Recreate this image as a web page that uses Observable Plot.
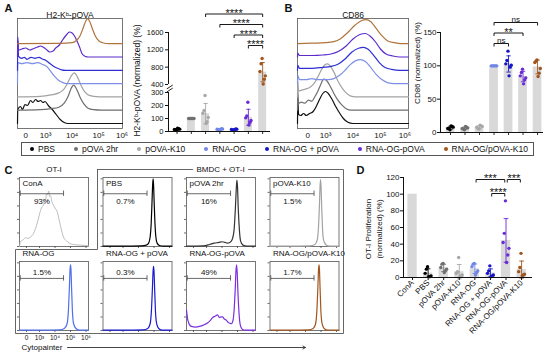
<!DOCTYPE html>
<html><head><meta charset="utf-8">
<script src="https://cdn.jsdelivr.net/npm/d3@7"></script>
<script src="https://cdn.jsdelivr.net/npm/@observablehq/plot@0.6"></script>
<style>
html,body{margin:0;padding:0;background:#fff;}
#fig{position:relative;width:550px;height:355px;overflow:hidden;background:#fff;font-family:'Liberation Sans',Arial,sans-serif;}
</style></head>
<body><div id="fig"></div>
<script>
// ================= DATA =================
const groups = ["PBS", "pOVA 2hr", "pOVA-K10", "RNA-OG", "RNA-OG + pOVA", "RNA-OG-pOVA", "RNA-OG/pOVA-K10"];
const groupColors = ["#000000", "#707070", "#a8a8a8", "#6f86e6", "#1616c6", "#6a2bd6", "#a0561e"];

// Panel A bar chart: H2-Kb-pOVA (normalized) (%)
const aValues = [
  [8, 12, 15, 18, 22, 25],
  [100, 100, 100, 100, 100, 100],
  [277, 162, 140, 108, 75, 62],
  [10, 14, 17, 20, 22, 12],
  [9, 12, 15, 18, 20, 14],
  [225, 120, 105, 85, 70, 50],
  [1000, 880, 700, 600, 520, 410]
];
const aTicks = [0, 100, 200, 300, 400, 800, 1200, 1600];
const aBreak = [300, 400];
const aSig = [
  ["RNA-OG-pOVA", "RNA-OG/pOVA-K10", "****", 0],
  ["RNA-OG + pOVA", "RNA-OG/pOVA-K10", "****", 1],
  ["RNA-OG", "RNA-OG/pOVA-K10", "****", 2],
  ["pOVA-K10", "RNA-OG/pOVA-K10", "****", 3]
];

// Panel B bar chart: CD86 (normalized) (%)
const bValues = [
  [4, 6, 6, 8, 9, 10],
  [4, 5, 6, 7, 8, 9],
  [5, 6, 8, 9, 10, 11],
  [100, 100, 100, 100, 100, 100],
  [122, 108, 103, 101, 98, 85],
  [95, 90, 85, 82, 79, 73],
  [109, 107, 105, 96, 89, 84]
];
const bTicks = [0, 50, 100, 150];
const bSig = [
  ["RNA-OG", "RNA-OG + pOVA", "ns", 0],
  ["RNA-OG", "RNA-OG-pOVA", "**", 1],
  ["RNA-OG", "RNA-OG/pOVA-K10", "ns", 2]
];

// Panel D bar chart: OT-I proliferation (normalized) (%)
const dGroups = ["ConA", ...groups];
const dConA = 100;
const dValues = [
  [13, 10, 5, 2, 1, 1],
  [17, 16, 12, 10, 8, 6],
  [24, 7, 5, 3, 2, 1],
  [17, 16, 13, 8, 6, 3],
  [14, 8, 5, 3, 2, 1],
  [92, 53, 42, 35, 27, 18],
  [29, 12, 7, 4, 3, 2]
];
const dTicks = [0, 20, 40, 60, 80, 100, 120];
const dSig = [
  ["RNA-OG + pOVA", "RNA-OG-pOVA", "****", 0],
  ["RNA-OG", "RNA-OG-pOVA", "***", 1],
  ["RNA-OG-pOVA", "RNA-OG/pOVA-K10", "***", 1]
];

// Flow histograms: [log-decade position, relative count]
const decadeLabels = ["0", "10³", "10⁴", "10⁵", "10⁶"];
const decadeTicksA = [2.25, 3, 4, 5, 6];
const decadeTicksB = [2.35, 3, 4, 5, 6];
const histA = [
  [[1.94,0],[1.95,14],[2.05,17],[2.13,14],[2.22,19],[2.32,18],[2.43,23],[2.52,21],[2.62,24],[2.72,22],[2.81,23],[2.9,21],[2.98,22],[3.1,18],[3.25,14],[3.4,9],[3.55,4],[3.7,1],[3.85,0],[5.9,0]],
  [[1.94,0],[2.8,0.5],[3.2,1.5],[3.5,3],[3.7,7],[3.85,14],[3.95,21],[4.06,25],[4.17,21],[4.3,13],[4.45,6],[4.6,2],[4.8,0.5],[5.1,0],[5.9,0]],
  [[1.94,0],[2.8,0.5],[3.2,2],[3.5,4],[3.7,8],[3.85,15],[3.97,21],[4.08,24],[4.2,20],[4.33,12],[4.48,5],[4.65,1.5],[4.9,0.3],[5.2,0],[5.9,0]],
  [[1.94,0],[1.95,21],[2.1,20],[2.3,21],[2.5,20],[2.7,21],[2.9,19],[3.05,17],[3.2,12],[3.35,7],[3.5,3],[3.65,1],[3.8,0],[5.9,0]],
  [[1.94,0],[1.95,30],[1.98,14],[2.1,12],[2.2,13],[2.3,11],[2.45,13],[2.6,12],[2.75,13],[2.9,11],[3.0,10],[3.15,7],[3.3,4],[3.45,2],[3.6,0.5],[3.75,0],[5.9,0]],
  [[1.94,0],[1.95,20],[1.98,7],[2.1,8],[2.25,9],[2.4,7],[2.51,8],[2.6,9],[2.7,10],[2.81,11],[2.9,10],[2.96,9],[3.05,7],[3.15,5],[3.28,6],[3.38,9],[3.52,12],[3.64,17],[3.78,22],[3.9,25],[4.0,24],[4.09,21],[4.2,15],[4.28,10],[4.38,3],[4.5,0.5],[4.6,0],[5.9,0]],
  [[1.94,0],[3.5,0.3],[4.0,1],[4.15,3],[4.3,8],[4.42,16],[4.52,23],[4.58,25],[4.65,23],[4.75,16],[4.87,8],[5.0,3],[5.15,1],[5.4,0],[5.9,0]]
];
const histB = [
  [[1.98,0],[1.99,24],[2.02,9],[2.1,8],[2.2,10],[2.3,8],[2.42,10],[2.55,12],[2.68,18],[2.8,25],[2.9,30],[3.0,32],[3.1,30],[3.22,25],[3.35,18],[3.5,11],[3.65,5],[3.8,1.5],[4.0,0],[6.02,0]],
  [[1.98,0],[1.99,20],[2.02,7],[2.12,8],[2.25,7],[2.38,10],[2.5,9],[2.6,13],[2.72,19],[2.83,26],[2.93,31],[3.03,30],[3.15,25],[3.3,17],[3.45,10],[3.6,5],[3.75,1.5],[3.95,0],[6.02,0]],
  [[1.98,0],[1.99,16],[2.02,6],[2.15,7],[2.3,8],[2.45,10],[2.6,14],[2.72,20],[2.85,27],[2.97,32],[3.07,33],[3.17,31],[3.3,25],[3.45,16],[3.6,9],[3.75,4],[3.9,1],[4.1,0],[6.02,0]],
  [[1.98,0],[1.99,8],[2.05,4],[2.3,4],[2.5,5],[2.7,4],[2.9,4],[3.1,4],[3.3,5],[3.5,8],[3.7,13],[3.9,19],[4.1,23],[4.27,24],[4.45,22],[4.65,16],[4.85,9],[5.05,4],[5.25,1],[5.5,0],[6.02,0]],
  [[1.98,0],[1.99,5],[2.05,2],[2.5,2],[2.9,3],[3.2,4],[3.45,6],[3.7,11],[3.95,18],[4.2,22],[4.38,23],[4.55,21],[4.75,15],[4.95,8],[5.15,3],[5.4,1],[5.7,0],[6.02,0]],
  [[1.98,0],[1.99,4],[2.05,1.5],[2.5,1.5],[2.9,2],[3.2,3],[3.5,6],[3.75,11],[4.0,18],[4.25,22.5],[4.45,23.5],[4.62,21],[4.82,15],[5.0,8],[5.2,3],[5.45,1],[5.7,0],[6.02,0]],
  [[1.98,0],[2.5,0.5],[3.0,1],[3.3,2],[3.55,5],[3.8,11],[4.05,18],[4.3,23],[4.47,24],[4.65,22],[4.85,15],[5.05,8],[5.25,3],[5.5,1],[5.75,0],[6.02,0]]
];
const histColors = ["#111111", "#6e6e6e", "#a3a3a3", "#7d8fe6", "#2e2ed4", "#5b2ccc", "#b0733c"];

// Panel C: Cytopainter dilution histograms
const cPanels = ["ConA", "PBS", "pOVA 2hr", "pOVA-K10", "RNA-OG", "RNA-OG + pOVA", "RNA-OG-pOVA", "RNA-OG/pOVA-K10"];
const cPercent = ["93%", "0.7%", "16%", "1.5%", "1.5%", "0.3%", "49%", "1.7%"];
const cColors = ["#b5b5b5", "#000000", "#333333", "#a2a2a2", "#4f6fe8", "#1a1ad0", "#7a2fe0", "#a0561e"];
const cTickD = [2.16, 3, 4, 5, 6];
const cGate = [1.76, 4.55];
const cHist = [
  [[1.71,0],[1.77,7],[1.95,10],[2.1,13],[2.25,12],[2.42,14],[2.61,19],[2.75,27],[2.87,36],[2.97,45],[3.06,53],[3.16,58],[3.26,62],[3.33,70],[3.39,68],[3.45,78],[3.52,76],[3.6,82],[3.65,74],[3.71,75],[3.8,66],[3.9,61],[4.0,57],[4.16,50],[4.25,41],[4.35,31],[4.45,21],[4.55,14],[4.7,9],[4.81,7],[5.0,4],[5.19,3],[5.65,2],[6.16,1]],
  [[1.71,0.5],[3.0,0.5],[4.2,1],[4.5,2],[4.65,5],[4.75,14],[4.82,35],[4.87,65],[4.91,90],[4.94,100],[4.97,92],[5.01,65],[5.06,35],[5.12,14],[5.2,5],[5.35,1.5],[5.6,0.5],[6.16,0.5]],
  [[1.71,0.5],[2.8,1],[3.2,3],[3.5,5],[3.8,6],[4.0,7],[4.2,6],[4.35,5],[4.5,6],[4.65,10],[4.78,25],[4.86,55],[4.92,85],[4.96,98],[5.0,88],[5.05,55],[5.12,25],[5.2,8],[5.35,2],[5.6,0.5],[6.16,0.5]],
  [[1.71,0.5],[3.0,0.5],[4.3,1],[4.6,3],[4.75,9],[4.84,30],[4.9,62],[4.94,90],[4.97,99],[5.0,90],[5.04,62],[5.09,30],[5.16,10],[5.3,3],[5.55,0.5],[6.16,0.5]],
  [[1.71,0.5],[3.0,0.5],[4.3,1],[4.6,3],[4.78,10],[4.87,32],[4.93,65],[4.97,90],[5.0,97],[5.03,90],[5.07,62],[5.12,30],[5.2,10],[5.35,3],[5.6,0.5],[6.16,0.5]],
  [[1.71,0.5],[3.0,0.5],[4.3,1],[4.6,3],[4.75,10],[4.84,32],[4.9,64],[4.94,88],[4.97,95],[5.0,88],[5.04,62],[5.09,30],[5.17,10],[5.3,3],[5.55,0.5],[6.16,0.5]],
  [[1.71,30],[1.8,15],[1.95,7],[2.03,6],[2.3,5],[2.55,6],[2.8,8],[3.06,11],[3.25,15],[3.39,19],[3.55,21],[3.71,23],[3.84,19],[3.93,20],[4.03,20],[4.15,17],[4.29,15],[4.4,12],[4.48,11],[4.6,10],[4.7,14],[4.78,30],[4.85,60],[4.9,88],[4.94,97],[4.98,85],[5.03,55],[5.1,25],[5.18,8],[5.3,2],[5.5,0.5],[6.16,0.5]],
  [[1.71,0.5],[3.0,0.5],[4.2,1],[4.5,3],[4.65,10],[4.74,32],[4.8,65],[4.84,90],[4.87,97],[4.9,90],[4.94,62],[4.99,30],[5.07,10],[5.2,3],[5.45,0.5],[6.16,0.5]]
];

// ================= HELPERS =================
const W = 550, H = 355;
const FONT = "'Liberation Sans', Arial, Helvetica, sans-serif";
const STYLE = `position:absolute;left:0;top:0;background:transparent;overflow:visible;font-family:${FONT};font-size:8px;color:#111;`;
const fig = document.getElementById("fig");

function mkPlot({left, right, top, bottom, x, y, color, marks}) {
  const p = Plot.plot({
    width: W, height: H,
    marginLeft: left, marginRight: W - right, marginTop: top, marginBottom: H - bottom,
    style: STYLE, x, y, color, marks
  });
  fig.appendChild(p);
  return p;
}
const jit = j => (((j * 5 + 2) % 6) - 2.5) * 0.075;
function statsOf(vals, offset) {
  return vals.map((v, k) => ({i: k + offset, g: groups[k], mean: d3.mean(v), sd: v.length > 1 ? d3.deviation(v) : 0}));
}
function pointsOf(vals, offset) {
  return vals.flatMap((v, k) => v.map((val, j) => ({i: k + offset, g: groups[k], v: val, j})));
}
function barMarks(stats, pts, f, halfW) {
  const withSd = stats.filter(s => s.sd > 0);
  return [
    Plot.rect(stats, {x1: s => s.i - halfW, x2: s => s.i + halfW, y1: 0, y2: s => f(s.mean), fill: "#d9d9d9"}),
    Plot.ruleX(withSd, {x: "i", y1: s => f(s.mean - s.sd), y2: s => f(s.mean + s.sd), stroke: "g", strokeWidth: 0.9}),
    Plot.link(withSd, {x1: s => s.i - 0.15, x2: s => s.i + 0.15, y1: s => f(s.mean + s.sd), y2: s => f(s.mean + s.sd), stroke: "g", strokeWidth: 0.9}),
    Plot.link(withSd, {x1: s => s.i - 0.15, x2: s => s.i + 0.15, y1: s => f(s.mean - s.sd), y2: s => f(s.mean - s.sd), stroke: "g", strokeWidth: 0.9}),
    Plot.dot(pts, {x: p => p.i + jit(p.j), y: p => f(p.v), fill: "g", r: 1.7})
  ];
}
function bracketMarks(sig, cats, base, step, drop, inset) {
  const rows = sig.map(([a, b, lab, t]) => ({x1: cats.indexOf(a) + inset, x2: cats.indexOf(b) - inset, y: base + t * step, lab}));
  const st = {stroke: "#000", strokeWidth: 0.9};
  return [
    Plot.link(rows, {x1: "x1", x2: "x2", y1: "y", y2: "y", ...st}),
    Plot.link(rows, {x1: "x1", x2: "x1", y1: "y", y2: r => r.y - drop, ...st}),
    Plot.link(rows, {x1: "x2", x2: "x2", y1: "y", y2: r => r.y - drop, ...st}),
    Plot.text(rows.filter(r => r.lab !== "ns"), {x: r => (r.x1 + r.x2) / 2, y: "y", text: "lab", fontSize: 11, lineAnchor: "bottom", dy: 2.5}),
    Plot.text(rows.filter(r => r.lab === "ns"), {x: r => (r.x1 + r.x2) / 2, y: "y", text: "lab", fontSize: 8, lineAnchor: "bottom", dy: -1})
  ];
}
const colorScale = {domain: groups, range: groupColors};

// ================= PANEL A: histogram =================
const histBase = 5, histStep = 13.3;
const stack = hs => hs.flatMap((pts, k) => pts.map(([d, h]) => ({g: groups[k], d, y: h + histBase + k * histStep})));
function histPanel(left, right, dom, hists, ticks, title) {
  mkPlot({
    left, right, top: 18, bottom: 128,
    x: {domain: dom, axis: null}, y: {domain: [0, 110], axis: null},
    color: {domain: groups, range: histColors},
    marks: [
      Plot.frame({stroke: "#555", strokeWidth: 0.8}),
      Plot.line(stack(hists), {x: "d", y: "y", z: "g", stroke: "g", strokeWidth: 1.2, curve: "monotone-x"}),
      Plot.text(decadeLabels.slice(0, 4), {x: (d, i) => ticks[i], frameAnchor: "bottom", dy: 9, fontSize: 8}),
      Plot.text(decadeLabels.slice(4), {x: (d, i) => ticks[4 + i], frameAnchor: "bottom", dy: 9, fontSize: 8, textAnchor: "end", dx: 3}),
      Plot.text([title], {frameAnchor: "top", dy: -7, fontSize: 8.5})
    ]
  });
}
histPanel(17, 122, [1.94, 5.9], histA, decadeTicksA, "H2-Kᵇ-pOVA");

// ================= PANEL A: bar chart (broken axis) =================
const aX0 = -0.6, aYmax = 969;
const aPx = (131 - 5) / aYmax;
const aGap = 8 / aPx;
const aSlope = ((131 - aBreak[0] * aPx - 8) - 32) / (aTicks[aTicks.length - 1] - aBreak[1]) / aPx;
const aScale = v => v <= aBreak[0] ? v : aBreak[0] + aGap + (v - aBreak[1]) * aSlope;
const aTickPos = aTicks.map(aScale);
mkPlot({
  left: 168, right: 270, top: 5, bottom: 131,
  x: {domain: [aX0, 6.55], axis: null}, y: {domain: [0, aYmax]},
  color: colorScale,
  marks: [
    ...barMarks(statsOf(aValues, 0), pointsOf(aValues, 0), aScale, 0.28),
    Plot.ruleY([0], {strokeWidth: 1}),
    Plot.ruleX(groups.map((g, i) => i), {x: d => d, y1: 0, y2: 0, insetBottom: -3, strokeWidth: 0.9}),
    Plot.ruleX([aX0], {x: d => d, y1: 0, y2: aScale(aBreak[0]), strokeWidth: 1}),
    Plot.ruleX([aX0], {x: d => d, y1: aScale(aBreak[1]), y2: aScale(aTicks[aTicks.length - 1]), strokeWidth: 1}),
    Plot.link([aBreak[0], aBreak[1]], {x1: aX0 - 0.12, x2: aX0 + 0.3, y1: (b, i) => aScale(b) + (i ? -34 : 4), y2: (b, i) => aScale(b) + (i ? -34 : 4) + 30, strokeWidth: 0.9}),
    Plot.axisY({ticks: aTickPos, tickFormat: v => String(aTicks[aTickPos.indexOf(v)]), tickSize: 3, tickPadding: 2, label: null, fontSize: 7.5}),
    ...bracketMarks(aSig, groups, (131 - 45) / aPx, 10.5 / aPx, 3 / aPx, 0),
    Plot.text(["H2-Kᵇ-pOVA (normalized) (%)"], {frameAnchor: "left", rotate: -90, dx: -31, dy: 12, textAnchor: "middle", fontSize: 8.5})
  ]
});

// ================= PANEL B: histogram + bar chart =================
histPanel(297, 408, [1.98, 6.02], histB, decadeTicksB, "CD86");

const bX0 = -0.69, bYmax = 190.5;
const bPx = (132 - 5) / bYmax;
mkPlot({
  left: 440, right: 543, top: 5, bottom: 132,
  x: {domain: [bX0, 6.41], axis: null}, y: {domain: [0, bYmax]},
  color: colorScale,
  marks: [
    ...barMarks(statsOf(bValues, 0), pointsOf(bValues, 0), v => v, 0.3),
    Plot.ruleY([0], {strokeWidth: 1}),
    Plot.ruleX(groups.map((g, i) => i), {x: d => d, y1: 0, y2: 0, insetBottom: -3, strokeWidth: 0.9}),
    Plot.ruleX([bX0], {x: d => d, y1: 0, y2: bTicks[bTicks.length - 1], strokeWidth: 1}),
    Plot.axisY({ticks: bTicks, tickSize: 3, tickPadding: 1, label: null, fontSize: 8}),
    ...bracketMarks(bSig, groups, (132 - 43) / bPx, 10.5 / bPx, 3 / bPx, 0),
    Plot.text(["CD86 (normalized) (%)"], {frameAnchor: "left", rotate: -90, dx: -23, dy: -6, textAnchor: "middle", fontSize: 8})
  ]
});

// ================= LEGEND =================
const leg = document.createElement("div");
leg.style.cssText = "position:absolute;left:21px;top:142px;width:513px;height:14px;box-sizing:border-box;border:1px solid #555;display:flex;justify-content:space-between;align-items:center;padding:0 5px 0 8px;font-size:8.5px;color:#111;font-family:" + FONT + ";";
groups.forEach((g, i) => {
  const it = document.createElement("span");
  it.style.cssText = "display:inline-flex;align-items:center;white-space:nowrap;";
  const b = document.createElement("span");
  b.style.cssText = `display:inline-block;width:4px;height:4px;border-radius:50%;background:${groupColors[i]};margin-right:4px;`;
  it.appendChild(b);
  it.appendChild(document.createTextNode(g));
  leg.appendChild(it);
});
fig.appendChild(leg);

// ================= PANEL C: proliferation histograms =================
const CL = {x0: 19, dx: 83.5, w: 69, rowTop: [177, 261], h: 69};
const cDomain = [1.71, 6.16];
const cGateY = [78, 77], cTextY = [67, 86];
cPanels.forEach((name, k) => {
  const col = k % 4, row = Math.floor(k / 4);
  const left = CL.x0 + col * CL.dx, top = CL.rowTop[row];
  const gy = cGateY[row];
  const st = {stroke: "#444", strokeWidth: 0.8};
  const marks = [
    Plot.frame({stroke: "#555", strokeWidth: 0.8}),
    Plot.ruleY([0, 20, 40, 60, 80, 100], {y: d => d, x1: cDomain[0], x2: cDomain[0], insetLeft: -2, ...st}),
    Plot.ruleX(cTickD, {x: d => d, y1: 0, y2: 0, insetBottom: -2, ...st}),
    Plot.line(cHist[k], {x: p => p[0], y: p => p[1], stroke: cColors[k], strokeWidth: k === 0 ? 0.9 : 1.2, curve: "monotone-x"}),
    Plot.link([cGate], {x1: g => g[0], x2: g => g[1], y1: gy, y2: gy, ...st}),
    Plot.ruleX(cGate, {x: d => d, y1: gy - 4, y2: gy + 4, ...st}),
    Plot.text([cPercent[k]], {x: (cGate[0] + cGate[1]) / 2, y: cTextY[row], fontSize: 8}),
    Plot.text([name], {frameAnchor: "top-left", dx: 3, dy: row === 0 ? 3 : -11, fontSize: 8})
  ];
  if (k === 4) marks.push(Plot.text(decadeLabels, {x: (d, i) => cTickD[i], frameAnchor: "bottom", dy: 9, fontSize: 6.5}));
  mkPlot({left, right: left + CL.w, top, bottom: top + CL.h, x: {domain: cDomain, axis: null}, y: {domain: [0, 102], axis: null}, marks});
});

// ================= PANEL D: bar chart =================
const dX0 = -0.58, dYmax = 130.8;
const dPx = (277 - 168) / dYmax;
const dStats = [{i: 0, g: "ConA", mean: dConA, sd: 0}, ...statsOf(dValues, 1)];
mkPlot({
  left: 403, right: 532, top: 168, bottom: 277,
  x: {domain: [dX0, 7.7]}, y: {domain: [0, dYmax]},
  color: colorScale,
  marks: [
    ...barMarks(dStats, pointsOf(dValues, 1), v => v, 0.3),
    Plot.ruleY([0], {strokeWidth: 1}),
    Plot.ruleX([dX0], {x: d => d, y1: 0, y2: dTicks[dTicks.length - 1], strokeWidth: 1}),
    Plot.axisY({ticks: dTicks, tickSize: 3, tickPadding: 1, label: null, fontSize: 8}),
    Plot.axisX({ticks: d3.range(dGroups.length), tickFormat: i => dGroups[i], tickRotate: -45, tickSize: 3, tickPadding: 1, label: null, fontSize: 8}),
    ...bracketMarks(dSig, dGroups, (277 - 193) / dPx, 14 / dPx, 3 / dPx, 0.08),
    Plot.text(["OT-I Proliferation\n(normalized) (%)"], {frameAnchor: "left", rotate: -90, dx: -30.5, dy: 6, textAnchor: "middle", lineAnchor: "middle", lineHeight: 1.35, fontSize: 8})
  ]
});

// ================= OVERLAY: frames, panel letters, axis caption =================
const fr = {l: CL.x0 - 4, m: CL.x0 + CL.dx - 5.5, r: CL.x0 + 3 * CL.dx + CL.w + 4.5, t: CL.rowTop[0] - 8, mid: CL.rowTop[1] - 12, b: CL.rowTop[1] + CL.h + 3};
const framePath = [[fr.m, fr.t], [fr.r, fr.t], [fr.r, fr.b], [fr.l, fr.b], [fr.l, fr.mid], [fr.m, fr.mid], [fr.m, fr.t]];
const panelLetters = ["A", "B", "C", "D"];
const panelPos = [[8, 8], [288, 8], [8, 170], [360, 170]];
const capY = fr.b + 14;
mkPlot({
  left: 0, right: W, top: 0, bottom: H,
  x: {domain: [0, W], axis: null}, y: {domain: [H, 0], axis: null},
  marks: [
    Plot.line(framePath, {x: p => p[0], y: p => p[1], stroke: "#555", strokeWidth: 0.9}),
    Plot.text(["BMDC + OT-I"], {x: (fr.m + fr.r) / 2, y: fr.t, stroke: "white", strokeWidth: 8, fill: "#111", fontSize: 8}),
    Plot.text(["OT-I"], {x: CL.x0 + CL.w / 2, y: fr.t, fill: "#111", fontSize: 8}),
    Plot.text(panelLetters, {x: (d, i) => panelPos[i][0], y: (d, i) => panelPos[i][1], fontWeight: "bold", fontSize: 11}),
    Plot.text(["Cytopainter"], {x: fr.l + 6, y: capY, textAnchor: "start", fontSize: 8}),
    Plot.arrow([0], {x1: fr.l + 52, x2: fr.r - 38, y1: capY, y2: capY, headLength: 5, stroke: "#333", strokeWidth: 0.9})
  ]
});
</script>
</body></html>
